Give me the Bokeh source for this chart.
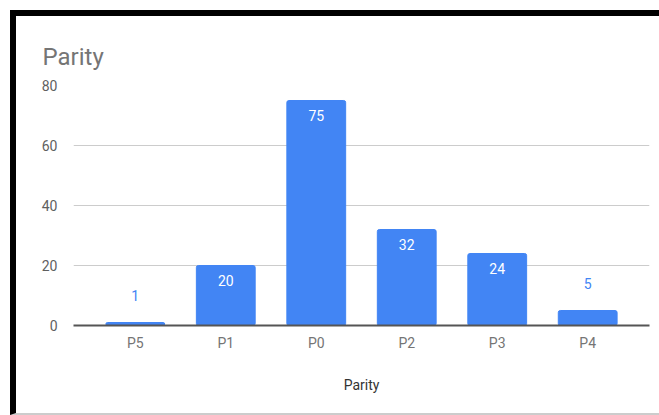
from bokeh.plotting import figure
from bokeh.models import ColumnDataSource, FactorRange, Range1d, FixedTicker
from bokeh.layouts import column
from bokeh.embed import file_html
from bokeh.resources import INLINE

categories = ["P5", "P1", "P0", "P2", "P3", "P4"]
values = [1, 20, 75, 32, 24, 5]
y_ticks = [0, 20, 40, 60, 80]
title_text = "Parity"
x_axis_title = "Parity"

BLUE = "#4285F4"
inside = [v >= 10 for v in values]
src = ColumnDataSource(dict(
    cat=categories,
    val=values,
    lab=[str(v) for v in values],
    col=["#ffffff" if i else BLUE for i in inside],
    yoff=[15 if i else -27 for i in inside],
))

p = figure(width=643, height=397, output_backend="svg", toolbar_location=None,
           x_range=FactorRange(factors=categories, range_padding=0.061),
           y_range=Range1d(0, 80),
           min_border_left=57, min_border_right=10, min_border_top=69, min_border_bottom=88)
p.outline_line_color = None
p.background_fill_color = "white"
p.border_fill_color = "white"

p.title.text = title_text
p.title.align = "left"
p.title.offset = -31
p.title.standoff = 30
p.title.text_font = "Roboto"
p.title.text_font_size = "24px"
p.title.text_font_style = "normal"
p.title.text_color = "#757575"

p.vbar(x="cat", top="val", width=0.65, source=src, color=BLUE, border_radius=2)
p.text(x="cat", y="val", text="lab", source=src, text_color="col", y_offset="yoff",
       text_align="center", text_baseline="middle", text_font_size="14px",
       text_font={"value": "Roboto"})

p.xgrid.grid_line_color = None
p.ygrid.grid_line_color = "#cccccc"
p.ygrid.ticker = FixedTicker(ticks=y_ticks[1:])

p.yaxis.ticker = FixedTicker(ticks=y_ticks)
p.yaxis.axis_line_color = None
p.yaxis.major_tick_line_color = None
p.yaxis.minor_tick_line_color = None
p.yaxis.major_label_standoff = 10
p.yaxis.major_label_text_font = "Roboto"
p.yaxis.major_label_text_font_size = "14px"
p.yaxis.major_label_text_color = "#5f5f5f"

p.xaxis.axis_line_color = "#555555"
p.xaxis.axis_line_width = 2
p.xaxis.major_tick_line_color = None
p.xaxis.minor_tick_line_color = None
p.xaxis.major_label_standoff = 3
p.xaxis.major_label_text_font = "Roboto"
p.xaxis.major_label_text_font_size = "14px"
p.xaxis.major_label_text_color = "#757575"
p.xaxis.axis_label = x_axis_title
p.xaxis.axis_label_standoff = 23
p.xaxis.axis_label_text_font = "Roboto"
p.xaxis.axis_label_text_font_size = "14px"
p.xaxis.axis_label_text_font_style = "normal"
p.xaxis.axis_label_text_color = "#333333"

layout = column(p, styles={"box-sizing": "content-box", "margin-left": "10px", "margin-top": "10px",
                           "border-left": "6px solid black", "border-top": "6px solid black",
                           "border-bottom": "2px solid #cccccc"})

open("out.html", "w").write(file_html(layout, INLINE))
